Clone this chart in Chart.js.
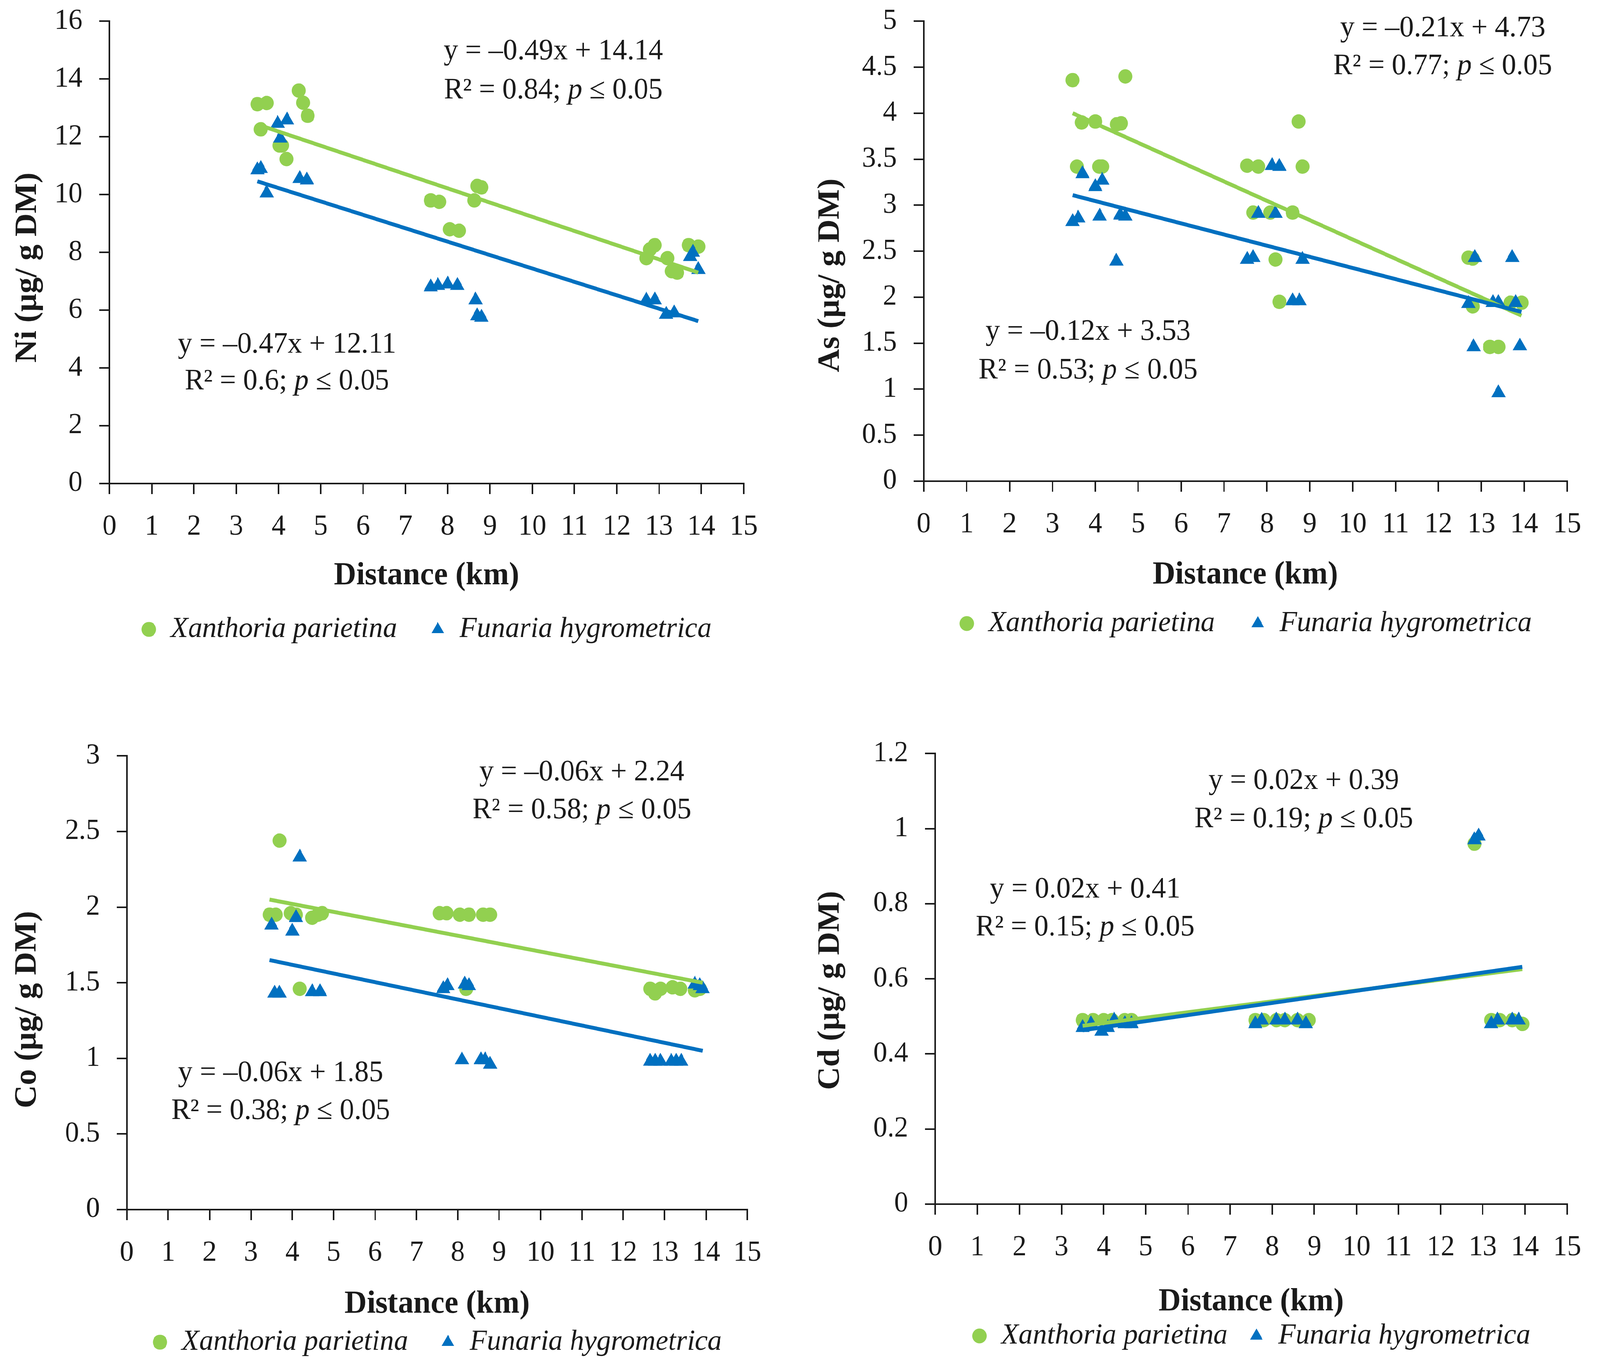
<!DOCTYPE html>
<html>
<head>
<meta charset="utf-8">
<script src="https://cdn.jsdelivr.net/npm/chart.js@4.4.1/dist/chart.umd.min.js"></script>
<style>
  body { margin: 0; background: #fff; overflow: hidden; }
  #stage { position: absolute; left: 0; top: 0; width: 4226px; height: 3500px; transform-origin: 0 0; }
  canvas { position: absolute; }
</style>
</head>
<body>
<div id="stage">
  <canvas id="ni" width="2016" height="1693" style="left:25px;top:-34px"></canvas>
  <canvas id="as" width="2068" height="1678" style="left:2148px;top:-34px"></canvas>
  <canvas id="co" width="2024" height="1637" style="left:27px;top:1847px"></canvas>
  <canvas id="cd" width="2068" height="1627" style="left:2148px;top:1841px"></canvas>
</div>
<script>
// the page is drawn 4226 px wide; squeeze it if the window is narrower
const stageScale = Math.min(1, window.innerWidth / 4226);
document.getElementById('stage').style.transform = 'scaleX(' + stageScale + ')';

// series names
const speciesNames = ['Xanthoria parietina', 'Funaria hygrometrica'];

// Ni
const niXanDist = [3.5, 3.72, 3.58, 4.48, 4.58, 4.69, 4.02, 4.08, 4.19, 7.6, 7.8, 8.05, 8.27, 8.7, 8.8, 8.63, 12.7, 12.78, 12.9, 13.2, 13.3, 13.43, 13.7, 13.93];
const niXan     = [13.13, 13.17, 12.26, 13.6, 13.18, 12.73, 11.7, 11.7, 11.23, 9.8, 9.75, 8.8, 8.75, 10.3, 10.25, 9.8, 7.8, 8.1, 8.25, 7.8, 7.35, 7.3, 8.25, 8.2];
const niFunDist = [3.5, 3.58, 3.72, 3.98, 4.2, 4.04, 4.5, 4.67, 7.6, 7.77, 8.0, 8.23, 8.66, 8.7, 8.8, 12.7, 12.9, 13.17, 13.36, 13.74, 13.8, 13.93];
const niFun     = [10.85, 10.9, 10.05, 12.46, 12.58, 11.95, 10.55, 10.5, 6.8, 6.85, 6.9, 6.85, 6.35, 5.8, 5.75, 6.35, 6.35, 5.85, 5.9, 7.85, 8.0, 7.4];
const niXanTrend = [[3.5, 12.43], [13.93, 7.3]];
const niFunTrend = [[3.5, 10.46], [13.93, 5.62]];

// As
const asXanDist = [3.47, 4.7, 3.68, 4.0, 4.5, 4.6, 3.57, 4.09, 4.16, 7.54, 7.8, 7.68, 8.08, 8.6, 8.74, 8.83, 8.2, 8.29, 12.7, 12.8, 12.8, 13.2, 13.4, 13.68, 13.94];
const asXan     = [4.36, 4.40, 3.90, 3.91, 3.88, 3.89, 3.42, 3.42, 3.42, 3.43, 3.42, 2.92, 2.92, 2.92, 3.91, 3.42, 2.41, 1.95, 2.43, 2.42, 1.90, 1.46, 1.46, 1.94, 1.94];
const asFunDist = [3.47, 3.6, 3.7, 4.0, 4.16, 4.1, 4.49, 4.58, 4.7, 7.54, 7.68, 7.8, 8.12, 8.29, 8.2, 8.6, 8.76, 8.83, 12.7, 12.85, 12.82, 13.27, 13.4, 13.4, 13.72, 13.8, 13.9];
const asFun     = [2.82, 2.86, 3.34, 3.2, 3.27, 2.88, 2.39, 2.89, 2.88, 2.41, 2.43, 2.91, 3.43, 3.42, 2.91, 1.96, 1.96, 2.41, 1.93, 2.43, 1.46, 1.94, 1.94, 0.96, 2.43, 1.94, 1.47];
const asXanTrend = [[3.47, 4.0], [13.94, 1.8]];
const asFunTrend = [[3.47, 3.11], [13.94, 1.84]];

// Co
const coXanDist = [3.69, 3.45, 3.6, 3.96, 4.09, 4.48, 4.62, 4.72, 4.18, 7.56, 7.73, 8.05, 8.27, 8.61, 8.78, 8.2, 12.65, 12.77, 12.9, 13.19, 13.38, 13.73, 13.85];
const coXan     = [2.44, 1.95, 1.95, 1.96, 1.95, 1.93, 1.95, 1.96, 1.46, 1.96, 1.96, 1.95, 1.95, 1.95, 1.95, 1.46, 1.46, 1.43, 1.46, 1.47, 1.46, 1.45, 1.46];
const coFunDist = [3.5, 4.18, 4.0, 4.09, 3.57, 3.69, 4.48, 4.67, 7.65, 7.75, 8.17, 8.27, 8.1, 8.56, 8.66, 8.78, 12.65, 12.77, 12.9, 13.16, 13.28, 13.4, 13.73, 13.85, 13.92];
const coFun     = [1.88, 2.33, 1.84, 1.93, 1.43, 1.43, 1.44, 1.44, 1.46, 1.48, 1.49, 1.48, 0.99, 0.99, 0.99, 0.96, 0.98, 0.98, 0.98, 0.98, 0.98, 0.98, 1.49, 1.48, 1.46];
const coXanTrend = [[3.45, 2.05], [13.92, 1.5]];
const coFunTrend = [[3.45, 1.65], [13.92, 1.05]];

// Cd
const cdXanDist = [3.5, 3.75, 4.0, 4.2, 4.5, 4.66, 7.6, 7.8, 8.1, 8.3, 8.6, 8.87, 12.8, 13.2, 13.4, 13.7, 13.94];
const cdXan     = [0.49, 0.49, 0.49, 0.49, 0.49, 0.49, 0.49, 0.49, 0.49, 0.49, 0.49, 0.49, 0.96, 0.49, 0.49, 0.49, 0.48];
const cdFunDist = [3.5, 3.7, 3.95, 4.1, 4.25, 4.5, 4.66, 7.6, 7.75, 8.1, 8.3, 8.6, 8.8, 12.8, 12.9, 13.2, 13.35, 13.7, 13.85];
const cdFun     = [0.47, 0.48, 0.46, 0.47, 0.49, 0.48, 0.48, 0.48, 0.49, 0.49, 0.49, 0.49, 0.48, 0.97, 0.98, 0.48, 0.49, 0.49, 0.49];
const cdXanTrend = [[3.5, 0.475], [13.94, 0.626]];
const cdFunTrend = [[3.5, 0.463], [13.94, 0.632]];

// axis ranges [min, max, step]
const distRange = [0, 15, 1];
const niRange = [0, 16, 2];
const asRange = [0, 5, 0.5];
const coRange = [0, 3, 0.5];
const cdRange = [0, 1.2, 0.2];

// equation texts
const niEq = [['y = –0.49x + 14.14', 'R² = 0.84; '], ['y = –0.47x + 12.11', 'R² = 0.6; ']];
const asEq = [['y = –0.21x + 4.73', 'R² = 0.77; '], ['y = –0.12x + 3.53', 'R² = 0.53; ']];
const coEq = [['y = –0.06x + 2.24', 'R² = 0.58; '], ['y = –0.06x + 1.85', 'R² = 0.38; ']];
const cdEq = [['y = 0.02x + 0.39', 'R² = 0.19; '], ['y = 0.02x + 0.41', 'R² = 0.15; ']];

const GREEN = '#92D050', BLUE = '#0070C0', INK = '#1a1a1a';
const FONT = "'Liberation Serif', 'Times New Roman', serif";

const pts = (xs, ys) => xs.map((x, i) => ({x: x, y: ys[i]}));
const pairs = arr => arr.map(p => ({x: p[0], y: p[1]}));

// regression equations and the rotated y title
function textPlugin(p) {
  return {
    id: 'panelText',
    afterDatasetsDraw(chart) {
      const ctx = chart.ctx, sx = chart.scales.x, sy = chart.scales.y;
      const normal = '76px ' + FONT, ital = 'italic 76px ' + FONT;
      ctx.save();
      ctx.fillStyle = INK;
      ctx.textBaseline = 'middle';
      p.eq.forEach((eq, i) => {
        const s = p.spots[i];
        const cx = sx.getPixelForValue(s[0]);
        ctx.font = normal;
        ctx.textAlign = 'center';
        ctx.fillText(eq[0], cx, sy.getPixelForValue(s[1]));
        const parts = [[eq[1], normal], ['p', ital], [' ≤ 0.05', normal]];
        let w = 0;
        parts.forEach(q => { ctx.font = q[1]; w += ctx.measureText(q[0]).width; });
        let x = cx - w / 2;
        const y = sy.getPixelForValue(s[2]);
        ctx.textAlign = 'left';
        parts.forEach(q => { ctx.font = q[1]; ctx.fillText(q[0], x, y); x += ctx.measureText(q[0]).width; });
      });
      // y axis title
      ctx.translate(p.titlePos[0], p.titlePos[1]);
      ctx.rotate(-Math.PI / 2);
      ctx.font = 'bold 82px ' + FONT;
      ctx.textAlign = 'center';
      ctx.fillText(p.yTitle, 0, 0);
      ctx.restore();
    }
  };
}

function makePanel(id, p) {
  const datasets = [
    {label: speciesNames[0], data: pts(p.xd, p.xv), pointStyle: 'circle', pointRadius: 18.5, pointHoverRadius: 18.5,
     backgroundColor: GREEN, borderColor: GREEN, borderWidth: 0, order: 3},
    {label: speciesNames[1], data: pts(p.fd, p.fv), pointStyle: 'triangle', pointRadius: 22, pointHoverRadius: 22,
     backgroundColor: BLUE, borderColor: BLUE, borderWidth: 0, order: 2},
    {label: 'trendX', data: pairs(p.xt), showLine: true, pointRadius: 0, borderColor: GREEN, borderWidth: 10, order: 1},
    {label: 'trendF', data: pairs(p.ft), showLine: true, pointRadius: 0, borderColor: BLUE, borderWidth: 10, order: 0}
  ];
  const axisCommon = {
    border: {display: true, color: INK, width: 4},
    grid: {display: true, drawOnChartArea: false, drawTicks: true, tickLength: 27, color: INK, lineWidth: 4}
  };
  new Chart(document.getElementById(id), {
    type: 'scatter',
    data: {datasets: datasets},
    options: {
      responsive: false,
      animation: false,
      events: [],
      // the top gap comes from the y labels (half line + padding = 88 px)
      layout: {padding: {top: 0, right: 60, left: 0, bottom: 0}},
      scales: {
        x: Object.assign({}, axisCommon, {
          type: 'linear', min: distRange[0], max: distRange[1],
          ticks: {stepSize: distRange[2], autoSkip: false, color: INK, padding: 40, font: {family: FONT, size: 74}},
          title: {display: true, text: 'Distance (km)', color: INK, padding: 0,
                  font: {family: FONT, size: 82, weight: 'bold', lineHeight: 1.2}},
          afterFit: s => { s.height = p.xH; }
        }),
        y: Object.assign({}, axisCommon, {
          min: p.yr[0], max: p.yr[1],
          ticks: {stepSize: p.yr[2], color: INK, padding: 44, font: {family: FONT, size: 74},
                  callback: v => String(Math.round(v * 100) / 100)},
          title: {display: false},
          afterFit: s => { s.width = p.yW; }
        })
      },
      plugins: {
        tooltip: {enabled: false},
        legend: {
          position: 'bottom', fullSize: false,
          labels: {
            usePointStyle: true, boxHeight: 27, padding: p.legPad, color: INK,
            font: {family: FONT, size: 75, style: 'italic'},
            sort: (a, b) => a.datasetIndex - b.datasetIndex,
            generateLabels: ch => Chart.defaults.plugins.legend.labels.generateLabels(ch)
              .filter(l => l.datasetIndex < 2)
              .map(l => { if (l.datasetIndex === 0) l.text += p.legGap; return l; })
          }
        }
      }
    },
    plugins: [textPlugin(p)]
  });
}

makePanel('ni', {xd: niXanDist, xv: niXan, fd: niFunDist, fv: niFun, xt: niXanTrend, ft: niFunTrend,
  yr: niRange, yTitle: 'Ni (µg/ g DM)', eq: niEq, spots: [[10.5, 14.95, 13.6], [4.2, 4.8, 3.53]],
  titlePos: [49, 719], yW: 264, xH: 286, legPad: 50, legGap: '\u2002'});
makePanel('as', {xd: asXanDist, xv: asXan, fd: asFunDist, fv: asFun, xt: asXanTrend, ft: asFunTrend,
  yr: asRange, yTitle: 'As (µg/ g DM)', eq: asEq, spots: [[12.1, 4.92, 4.51], [3.83, 1.62, 1.2]],
  titlePos: [46, 739], yW: 292, xH: 290, legPad: 37, legGap: '\u2002\u2005'});
makePanel('co', {xd: coXanDist, xv: coXan, fd: coFunDist, fv: coFun, xt: coXanTrend, ft: coFunTrend,
  yr: coRange, yTitle: 'Co (µg/ g DM)', eq: coEq, spots: [[11.0, 2.89, 2.64], [3.72, 0.9, 0.65]],
  titlePos: [46, 738], yW: 308, xH: 292, legPad: 10, legGap: '\u2003'});
makePanel('cd', {xd: cdXanDist, xv: cdXan, fd: cdFunDist, fv: cdFun, xt: cdXanTrend, ft: cdFunTrend,
  yr: cdRange, yTitle: 'Cd (µg/ g DM)', eq: cdEq, spots: [[8.75, 1.126, 1.025], [3.56, 0.837, 0.736]],
  titlePos: [46, 695], yW: 322, xH: 300, legPad: 0, legGap: '\u2002\u2005'});
</script>
</body>
</html>
